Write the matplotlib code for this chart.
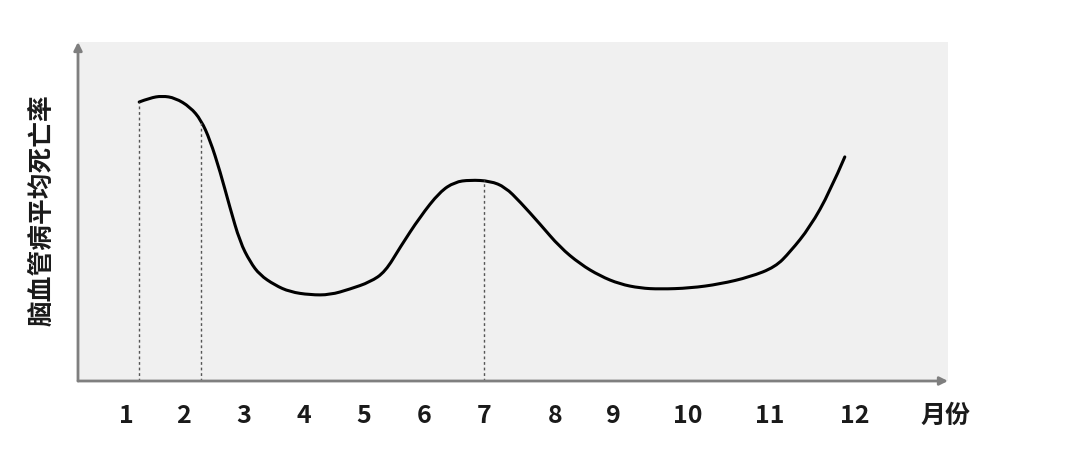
import matplotlib
matplotlib.use('Agg')
import matplotlib.pyplot as plt
from matplotlib.path import Path
from matplotlib.patches import PathPatch

plt.rcParams['font.family'] = ['Noto Sans CJK SC', 'DejaVu Sans']

# month labels and where they sit along the x axis (axis units)
months = ['1', '2', '3', '4', '5', '6', '7', '8', '9', '10', '11', '12']
month_pos = [0.80, 1.75, 2.77, 3.77, 4.77, 5.77, 6.77, 7.95, 8.93, 10.17, 11.53, 12.95]

# schematic curve of average mortality (y in 0..100)
curve_x = [1.02, 1.20, 1.40, 1.62, 1.87, 2.05, 2.20, 2.37, 2.53, 2.70, 2.87,
           3.03, 3.28, 3.53, 3.87, 4.20, 4.53, 4.87, 5.12, 5.37, 5.70, 6.03,
           6.28, 6.53, 6.87, 7.12, 7.37, 7.70, 8.03, 8.37, 8.70, 9.03, 9.37,
           9.70, 10.20, 10.70, 11.20, 11.62, 11.87, 12.20, 12.53, 12.78]
curve_y = [82.3, 83.5, 84.1, 83.5, 80.8, 77.0, 71.1, 61.7, 51.3, 41.0, 35.1,
           31.3, 28.3, 26.3, 25.4, 25.4, 27.1, 29.2, 32.2, 39.5, 48.4, 55.8,
           58.7, 59.3, 59.0, 57.2, 52.8, 46.3, 39.5, 34.5, 31.0, 28.6, 27.4,
           27.1, 27.4, 28.6, 30.7, 33.6, 38.1, 45.4, 55.8, 66.1]

# dashed markers: (x, height of curve there)
mark_x = [1.02, 2.05, 6.77]
mark_y = [82.3, 77.0, 59.3]

fig = plt.figure(figsize=(10.8, 4.66), dpi=100)
ax = fig.add_axes([78 / 1080, 85 / 466, 870 / 1080, 339 / 466])
ax.set_facecolor('#f0f0f0')
ax.set_xlim(0, 14.5)
ax.set_ylim(0, 100)
for s in ax.spines.values():
    s.set_visible(False)
ax.set_xticks([])
ax.set_yticks([])

# axes with arrows
for tip in [(1.0, 0), (0, 1.0)]:
    ax.annotate('', xy=tip, xytext=(0, 0), xycoords='axes fraction',
                arrowprops=dict(arrowstyle='-|>', color='#7f7f7f', lw=2, mutation_scale=12,
                                shrinkA=0, shrinkB=0), annotation_clip=False)

ax.vlines(mark_x, 0, mark_y, colors='#555555', linestyles=(0, (2, 2)), lw=1)

# smooth path: the read points act as quadratic control points
pts = list(zip(curve_x, curve_y))
verts = [pts[0]]
codes = [Path.MOVETO]
for i in range(1, len(pts) - 1):
    mid = ((pts[i][0] + pts[i + 1][0]) / 2, (pts[i][1] + pts[i + 1][1]) / 2)
    if i == len(pts) - 2:
        mid = pts[-1]
    verts += [pts[i], mid]
    codes += [Path.CURVE3, Path.CURVE3]
ax.add_patch(PathPatch(Path(verts, codes), facecolor='none', edgecolor='black',
                       lw=2.2, capstyle='round'))

for m, p in zip(months, month_pos):
    ax.text(p, -0.103, m, transform=ax.get_xaxis_transform(), ha='center', va='center',
            fontsize=18, fontweight='bold', color='#1a1a1a')
ax.text(14.45, -0.103, '月份', transform=ax.get_xaxis_transform(), ha='center',
        va='center', fontsize=18, fontweight='bold', color='#1a1a1a')

fig.text(42 / 1080, 1 - 210 / 466, '脑血管病平均死亡率', rotation=90, ha='center',
         va='center', fontsize=18.5, fontweight='bold', color='#1a1a1a')

fig.savefig('out.png', dpi=100, facecolor='white')
